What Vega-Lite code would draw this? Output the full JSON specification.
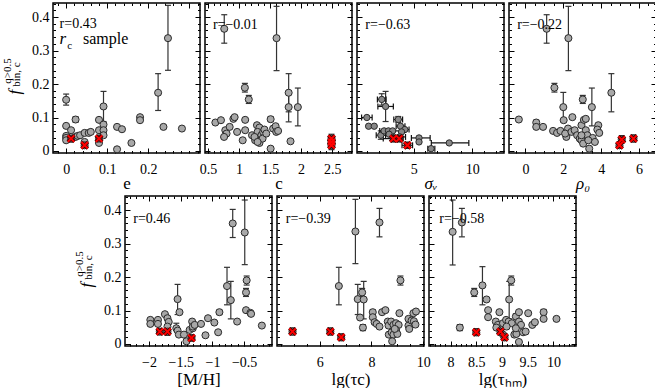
{
"$schema":"https://vega.github.io/schema/vega-lite/v6.json",
"padding":{"left":1,"top":1,"right":0,"bottom":0},
"background":"white",
"spacing":2,
"config":{
 "view":{"stroke":"black","strokeWidth":1.5},
 "axis":{"grid":false,"domain":false,"tickColor":"black","tickWidth":1,"tickSize":-5,"labelPadding":8,"labelFont":"Liberation Serif","labelFontSize":14,"labelColor":"black","titleFont":"Liberation Serif","titleFontSize":17,"titleFontWeight":"normal","titleColor":"black","labelFlush":false,"labelOverlap":false,"format":".2~f"},
 "axisBottom":{"labelPadding":14,"titlePadding":-1},
 "axisLeft":{"labelPadding":9},
 "text":{"font":"Liberation Serif","fontSize":14,"color":"black"}
},
"datasets":{"d":[
{"p":"e","x":0,"f":0.153,"lo":0.137,"hi":0.17},
{"p":"e","x":0,"f":0.075},
{"p":"e","x":0,"f":0.045},
{"p":"e","x":0,"f":0.039},
{"p":"e","x":0,"f":0.032},
{"p":"e","x":0.012,"f":0.062},
{"p":"e","x":0.023,"f":0.094,"lo":0.086,"hi":0.102},
{"p":"e","x":0.023,"f":0.042},
{"p":"e","x":0.028,"f":0.045},
{"p":"e","x":0.034,"f":0.047},
{"p":"e","x":0.045,"f":0.054},
{"p":"e","x":0.055,"f":0.054},
{"p":"e","x":0.06,"f":0.057},
{"p":"e","x":0.045,"f":0.027},
{"p":"e","x":0.08,"f":0.093},
{"p":"e","x":0.08,"f":0.062},
{"p":"e","x":0.08,"f":0.024},
{"p":"e","x":0.091,"f":0.133,"lo":0.088,"hi":0.178},
{"p":"e","x":0.091,"f":0.079},
{"p":"e","x":0.091,"f":0.062},
{"p":"e","x":0.091,"f":0.047},
{"p":"e","x":0.124,"f":0.072},
{"p":"e","x":0.136,"f":0.065},
{"p":"e","x":0.124,"f":0.005},
{"p":"e","x":0.159,"f":0.024},
{"p":"e","x":0.18,"f":0.101},
{"p":"e","x":0.18,"f":0.092},
{"p":"e","x":0.224,"f":0.174,"lo":0.121,"hi":0.231},
{"p":"e","x":0.248,"f":0.337,"lo":0.241,"hi":0.435},
{"p":"e","x":0.237,"f":0.072},
{"p":"e","x":0.282,"f":0.067},
{"p":"e","x":0.012,"f":0.037,"lo":0.027,"hi":0.047,"red":true},
{"p":"e","x":0.045,"f":0.017,"lo":0.008,"hi":0.026,"red":true},
{"p":"e","x":0.08,"f":0.037,"lo":0.027,"hi":0.047,"red":true},
{"p":"c","x":0.763,"f":0.365,"lo":0.322,"hi":0.407},
{"p":"c","x":1.605,"f":0.337,"lo":0.24,"hi":0.432},
{"p":"c","x":1.095,"f":0.189,"lo":0.176,"hi":0.202},
{"p":"c","x":1.158,"f":0.154,"lo":0.142,"hi":0.166},
{"p":"c","x":1.8,"f":0.174,"lo":0.117,"hi":0.231},
{"p":"c","x":1.8,"f":0.131,"lo":0.087,"hi":0.175},
{"p":"c","x":1.948,"f":0.131,"lo":0.075,"hi":0.188},
{"p":"c","x":0.62,"f":0.085},
{"p":"c","x":0.71,"f":0.092},
{"p":"c","x":0.78,"f":0.062},
{"p":"c","x":0.8,"f":0.052},
{"p":"c","x":0.76,"f":0.042},
{"p":"c","x":0.85,"f":0.072},
{"p":"c","x":0.91,"f":0.096},
{"p":"c","x":0.93,"f":0.101},
{"p":"c","x":0.97,"f":0.057},
{"p":"c","x":1.06,"f":0.032},
{"p":"c","x":1.1,"f":0.093},
{"p":"c","x":1.1,"f":0.062},
{"p":"c","x":1.21,"f":0.047},
{"p":"c","x":1.29,"f":0.077},
{"p":"c","x":1.33,"f":0.07},
{"p":"c","x":1.3,"f":0.057},
{"p":"c","x":1.26,"f":0.032},
{"p":"c","x":1.33,"f":0.024},
{"p":"c","x":1.36,"f":0.047},
{"p":"c","x":1.39,"f":0.057},
{"p":"c","x":1.38,"f":0.037},
{"p":"c","x":1.41,"f":0.064},
{"p":"c","x":1.25,"f":0.042},
{"p":"c","x":1.44,"f":0.052},
{"p":"c","x":1.3,"f":0.027},
{"p":"c","x":1.51,"f":0.095,"lo":0.088,"hi":0.102},
{"p":"c","x":1.51,"f":0.007},
{"p":"c","x":1.55,"f":0.067},
{"p":"c","x":1.59,"f":0.074},
{"p":"c","x":1.6,"f":0.057},
{"p":"c","x":1.63,"f":0.06},
{"p":"c","x":1.83,"f":0.029},
{"p":"c","x":2.49,"f":0.037,"lo":0.027,"hi":0.05,"red":true},
{"p":"c","x":2.49,"f":0.027,"lo":0.016,"hi":0.038,"red":true},
{"p":"c","x":2.49,"f":0.017,"lo":0.004,"hi":0.028,"red":true},
{"p":"s","x":2.27,"f":0.154,"lo":0.137,"hi":0.171,"xlo":1.9,"xhi":2.64},
{"p":"s","x":2.6,"f":0.133,"lo":0.088,"hi":0.178,"xlo":1.94,"xhi":3.26},
{"p":"s","x":1.0,"f":0.1,"xlo":0.55,"xhi":1.45},
{"p":"s","x":1.15,"f":0.074},
{"p":"s","x":1.63,"f":0.074},
{"p":"s","x":2.19,"f":0.047,"lo":0.035,"hi":0.06,"xlo":1.8,"xhi":2.6},
{"p":"s","x":2.47,"f":0.06,"xlo":2.1,"xhi":2.85},
{"p":"s","x":2.84,"f":0.06,"xlo":2.5,"xhi":3.2},
{"p":"s","x":3.2,"f":0.06,"xlo":2.6,"xhi":3.8},
{"p":"s","x":2.9,"f":0.05},
{"p":"s","x":3.68,"f":0.094,"lo":0.085,"hi":0.103,"xlo":3.3,"xhi":4.05},
{"p":"s","x":3.87,"f":0.074,"xlo":3.5,"xhi":4.25},
{"p":"s","x":4.24,"f":0.064,"xlo":3.9,"xhi":4.6},
{"p":"s","x":3.96,"f":0.057},
{"p":"s","x":3.82,"f":0.042,"xlo":3.3,"xhi":4.3},
{"p":"s","x":5.45,"f":0.039,"xlo":4.8,"xhi":6.4},
{"p":"s","x":5.45,"f":0.027},
{"p":"s","x":6.48,"f":0.007,"xlo":6.2,"xhi":6.8},
{"p":"s","x":8.03,"f":0.024,"xlo":6.5,"xhi":9.7},
{"p":"s","x":3.26,"f":0.037,"lo":0.027,"hi":0.047,"xlo":2.4,"xhi":4.1,"red":true},
{"p":"s","x":3.76,"f":0.037,"lo":0.027,"hi":0.047,"red":true},
{"p":"s","x":4.46,"f":0.017,"lo":0.008,"hi":0.026,"xlo":4.0,"xhi":4.9,"red":true},
{"p":"r","x":1.12,"f":0.365,"lo":0.322,"hi":0.407},
{"p":"r","x":2.27,"f":0.337,"lo":0.24,"hi":0.432},
{"p":"r","x":4.54,"f":0.174,"lo":0.117,"hi":0.231},
{"p":"r","x":1.53,"f":0.189,"lo":0.176,"hi":0.202},
{"p":"r","x":3.03,"f":0.154,"lo":0.142,"hi":0.166},
{"p":"r","x":2.0,"f":0.131,"lo":0.087,"hi":0.175},
{"p":"r","x":3.51,"f":0.131,"lo":0.075,"hi":0.188},
{"p":"r","x":-0.35,"f":0.094},
{"p":"r","x":0.57,"f":0.085,"lo":0.078,"hi":0.092},
{"p":"r","x":0.57,"f":0.072},
{"p":"r","x":0.93,"f":0.072},
{"p":"r","x":1.46,"f":0.06},
{"p":"r","x":1.67,"f":0.054},
{"p":"r","x":1.85,"f":0.06},
{"p":"r","x":2.02,"f":0.092},
{"p":"r","x":2.25,"f":0.067},
{"p":"r","x":2.16,"f":0.042},
{"p":"r","x":2.1,"f":0.052},
{"p":"r","x":2.43,"f":0.057},
{"p":"r","x":2.48,"f":0.101},
{"p":"r","x":2.6,"f":0.062},
{"p":"r","x":2.73,"f":0.047},
{"p":"r","x":2.87,"f":0.037},
{"p":"r","x":2.96,"f":0.077},
{"p":"r","x":3.09,"f":0.093},
{"p":"r","x":3.19,"f":0.096},
{"p":"r","x":3.19,"f":0.062},
{"p":"r","x":3.27,"f":0.047},
{"p":"r","x":2.96,"f":0.032},
{"p":"r","x":3.05,"f":0.022},
{"p":"r","x":3.37,"f":0.007},
{"p":"r","x":3.55,"f":0.039},
{"p":"r","x":3.67,"f":0.027},
{"p":"r","x":3.85,"f":0.077},
{"p":"r","x":3.8,"f":0.064},
{"p":"r","x":3.9,"f":0.054},
{"p":"r","x":3.32,"f":0.032},
{"p":"r","x":2.96,"f":0.047},
{"p":"r","x":4.97,"f":0.017,"lo":0.008,"hi":0.026,"red":true},
{"p":"r","x":5.09,"f":0.034,"lo":0.024,"hi":0.046,"red":true},
{"p":"r","x":5.71,"f":0.037,"lo":0.027,"hi":0.048,"red":true},
{"p":"m","x":-0.68,"f":0.36,"lo":0.318,"hi":0.402},
{"p":"m","x":-0.49,"f":0.333,"lo":0.237,"hi":0.43},
{"p":"m","x":-0.77,"f":0.173,"lo":0.117,"hi":0.229},
{"p":"m","x":-0.71,"f":0.131,"lo":0.075,"hi":0.187},
{"p":"m","x":-0.46,"f":0.19,"lo":0.176,"hi":0.203},
{"p":"m","x":-0.47,"f":0.154,"lo":0.142,"hi":0.166},
{"p":"m","x":-0.47,"f":0.101},
{"p":"m","x":-0.4,"f":0.093},
{"p":"m","x":-0.39,"f":0.09},
{"p":"m","x":-0.22,"f":0.055},
{"p":"m","x":-1.55,"f":0.134,"lo":0.088,"hi":0.178},
{"p":"m","x":-1.52,"f":0.095},
{"p":"m","x":-1.98,"f":0.072},
{"p":"m","x":-1.98,"f":0.06},
{"p":"m","x":-1.86,"f":0.072},
{"p":"m","x":-1.86,"f":0.06},
{"p":"m","x":-1.75,"f":0.089},
{"p":"m","x":-1.71,"f":0.077},
{"p":"m","x":-1.69,"f":0.066},
{"p":"m","x":-1.71,"f":0.052},
{"p":"m","x":-1.57,"f":0.047,"lo":0.04,"hi":0.062},
{"p":"m","x":-1.55,"f":0.04},
{"p":"m","x":-1.53,"f":0.028},
{"p":"m","x":-1.45,"f":0.028},
{"p":"m","x":-1.41,"f":0.008},
{"p":"m","x":-1.36,"f":0.042},
{"p":"m","x":-1.32,"f":0.067},
{"p":"m","x":-1.31,"f":0.047},
{"p":"m","x":-1.31,"f":0.052},
{"p":"m","x":-1.28,"f":0.057},
{"p":"m","x":-1.18,"f":0.06},
{"p":"m","x":-1.11,"f":0.026},
{"p":"m","x":-1.07,"f":0.077},
{"p":"m","x":-0.97,"f":0.064},
{"p":"m","x":-0.91,"f":0.035},
{"p":"m","x":-0.89,"f":0.095,"lo":0.088,"hi":0.101},
{"p":"m","x":-0.61,"f":0.067},
{"p":"m","x":-1.83,"f":0.037,"lo":0.028,"hi":0.046,"red":true},
{"p":"m","x":-1.71,"f":0.037,"lo":0.026,"hi":0.048,"red":true},
{"p":"m","x":-1.33,"f":0.018,"lo":0.01,"hi":0.027,"red":true},
{"p":"t","x":8.31,"f":0.363,"lo":0.32,"hi":0.405},
{"p":"t","x":7.38,"f":0.336,"lo":0.24,"hi":0.432},
{"p":"t","x":9.12,"f":0.19,"lo":0.176,"hi":0.203},
{"p":"t","x":6.74,"f":0.173,"lo":0.117,"hi":0.229},
{"p":"t","x":7.47,"f":0.134,"lo":0.088,"hi":0.178},
{"p":"t","x":7.64,"f":0.154,"lo":0.142,"hi":0.166},
{"p":"t","x":7.7,"f":0.133,"lo":0.075,"hi":0.187},
{"p":"t","x":7.56,"f":0.079},
{"p":"t","x":7.67,"f":0.049,"lo":0.04,"hi":0.058},
{"p":"t","x":8.05,"f":0.095,"lo":0.088,"hi":0.102},
{"p":"t","x":8.05,"f":0.08},
{"p":"t","x":8.12,"f":0.065},
{"p":"t","x":8.2,"f":0.06},
{"p":"t","x":8.31,"f":0.052},
{"p":"t","x":8.41,"f":0.095},
{"p":"t","x":8.54,"f":0.101},
{"p":"t","x":8.63,"f":0.067},
{"p":"t","x":8.66,"f":0.055},
{"p":"t","x":8.76,"f":0.067},
{"p":"t","x":8.85,"f":0.057},
{"p":"t","x":8.95,"f":0.062},
{"p":"t","x":9.05,"f":0.057},
{"p":"t","x":8.67,"f":0.028},
{"p":"t","x":8.78,"f":0.035},
{"p":"t","x":8.85,"f":0.028},
{"p":"t","x":8.95,"f":0.042},
{"p":"t","x":9.0,"f":0.03},
{"p":"t","x":8.8,"f":0.008},
{"p":"t","x":8.9,"f":0.045},
{"p":"t","x":9.08,"f":0.092},
{"p":"t","x":9.43,"f":0.075},
{"p":"t","x":9.62,"f":0.092},
{"p":"t","x":9.72,"f":0.097},
{"p":"t","x":9.43,"f":0.055},
{"p":"t","x":9.55,"f":0.07},
{"p":"t","x":9.64,"f":0.068},
{"p":"t","x":9.7,"f":0.058},
{"p":"t","x":9.46,"f":0.045},
{"p":"t","x":4.95,"f":0.037,"lo":0.027,"hi":0.048,"red":true},
{"p":"t","x":6.41,"f":0.037,"lo":0.027,"hi":0.048,"red":true},
{"p":"t","x":6.83,"f":0.02,"lo":0.01,"hi":0.03,"red":true},
{"p":"h","x":8.04,"f":0.335,"lo":0.236,"hi":0.43},
{"p":"h","x":8.22,"f":0.363,"lo":0.32,"hi":0.405},
{"p":"h","x":9.18,"f":0.19,"lo":0.176,"hi":0.203},
{"p":"h","x":8.62,"f":0.175,"lo":0.117,"hi":0.231},
{"p":"h","x":8.46,"f":0.154,"lo":0.142,"hi":0.166},
{"p":"h","x":9.14,"f":0.133,"lo":0.075,"hi":0.187},
{"p":"h","x":8.7,"f":0.133},
{"p":"h","x":8.73,"f":0.101},
{"p":"h","x":8.73,"f":0.08},
{"p":"h","x":8.18,"f":0.049,"lo":0.04,"hi":0.058},
{"p":"h","x":8.95,"f":0.095},
{"p":"h","x":8.88,"f":0.067},
{"p":"h","x":8.92,"f":0.057},
{"p":"h","x":9.02,"f":0.062},
{"p":"h","x":9.08,"f":0.072},
{"p":"h","x":9.13,"f":0.067},
{"p":"h","x":9.19,"f":0.062},
{"p":"h","x":9.27,"f":0.082,"lo":0.075,"hi":0.09},
{"p":"h","x":9.33,"f":0.095},
{"p":"h","x":9.51,"f":0.092},
{"p":"h","x":9.33,"f":0.067},
{"p":"h","x":9.37,"f":0.057},
{"p":"h","x":9.09,"f":0.052},
{"p":"h","x":9.24,"f":0.028},
{"p":"h","x":9.28,"f":0.03},
{"p":"h","x":9.33,"f":0.006},
{"p":"h","x":9.41,"f":0.035},
{"p":"h","x":9.46,"f":0.037},
{"p":"h","x":9.59,"f":0.057},
{"p":"h","x":9.64,"f":0.065},
{"p":"h","x":9.81,"f":0.095,"lo":0.087,"hi":0.103},
{"p":"h","x":9.81,"f":0.075},
{"p":"h","x":10.06,"f":0.075},
{"p":"h","x":9.27,"f":0.047},
{"p":"h","x":8.89,"f":0.049},
{"p":"h","x":9.02,"f":0.028},
{"p":"h","x":8.5,"f":0.035,"lo":0.025,"hi":0.046,"red":true},
{"p":"h","x":8.97,"f":0.037,"lo":0.027,"hi":0.047,"red":true},
{"p":"h","x":9.05,"f":0.02,"lo":0.01,"hi":0.03,"red":true}
]},
"data":{"name":"d"},
"vconcat":[
{"hconcat":[
{"width":147,"height":150,"transform":[{"filter":"datum.p=='e'"}],"resolve":{"axis":{"x":"independent","y":"independent"}},
 "layer":[
  {"transform":[{"filter":"datum.lo!=null"}],"mark":{"type":"rule","color":"#333","strokeWidth":1.2},
   "encoding":{"x":{"field":"x","type":"quantitative","axis":{"orient":"top","values":[0,0.1,0.2,0.3],"labels":false,"title":null}},
   "y":{"field":"lo","type":"quantitative","axis":{"orient":"right","values":[0,0.1,0.2,0.3,0.4],"labels":false,"title":null}},"y2":{"field":"hi"}}},
  {"transform":[{"filter":"datum.lo!=null"}],"mark":{"type":"point","shape":"M-1,0H1","filled":false,"stroke":"#333","strokeWidth":1.2,"size":36,"opacity":1},
   "encoding":{"x":{"field":"x","type":"quantitative","axis":null},"y":{"field":"lo","type":"quantitative","axis":null}}},
  {"transform":[{"filter":"datum.lo!=null"}],"mark":{"type":"point","shape":"M-1,0H1","filled":false,"stroke":"#333","strokeWidth":1.2,"size":36,"opacity":1},
   "encoding":{"x":{"field":"x","type":"quantitative","axis":null},"y":{"field":"hi","type":"quantitative","axis":null}}},
  {"mark":{"type":"point","shape":"circle","filled":true,"fill":"#a8a8a8","stroke":"#2a2a2a","strokeWidth":1,"size":50,"opacity":1},
   "encoding":{"x":{"field":"x","type":"quantitative","scale":{"domain":[-0.032,0.326],"nice":false,"zero":false},"axis":{"orient":"bottom","values":[0,0.1,0.2],"title":"e"}},
   "y":{"field":"f","type":"quantitative","scale":{"domain":[-0.006,0.442],"nice":false,"zero":false},"axis":{"orient":"left","values":[0,0.1,0.2,0.3,0.4],"title":null}}}},
  {"transform":[{"filter":"datum.red"}],"mark":{"type":"point","shape":"M-1,-1L1,1M-1,1L1,-1","filled":false,"stroke":"#400","strokeWidth":3.6,"size":42,"opacity":1},
   "encoding":{"x":{"field":"x","type":"quantitative","axis":{"orient":"bottom","tickCount":18,"labels":false,"title":null,"tickSize":-2.5}},
   "y":{"field":"f","type":"quantitative","axis":{"orient":"left","tickCount":22,"labels":false,"title":null,"tickSize":-2.5}}}},
  {"transform":[{"filter":"datum.red"}],"mark":{"type":"point","shape":"M-1,-1L1,1M-1,1L1,-1","filled":false,"stroke":"#ff0000","strokeWidth":2,"size":42,"opacity":1},
   "encoding":{"x":{"field":"x","type":"quantitative","axis":{"orient":"top","tickCount":18,"labels":false,"title":null,"tickSize":-2.5}},
   "y":{"field":"f","type":"quantitative","axis":{"orient":"right","tickCount":22,"labels":false,"title":null,"tickSize":-2.5}}}},
  {"data":{"values":[{}]},"mark":{"type":"text","text":"f","fontSize":17,"fontStyle":"italic","angle":270,"align":"center","baseline":"middle"},
   "encoding":{"x":{"datum":-0.1247,"type":"quantitative","axis":null},"y":{"datum":0.176,"type":"quantitative","axis":null}}},
  {"data":{"values":[{}]},"mark":{"type":"text","text":"q>0.5","fontSize":11,"angle":270,"align":"center","baseline":"middle"},
   "encoding":{"x":{"datum":-0.1418,"type":"quantitative","axis":null},"y":{"datum":0.239,"type":"quantitative","axis":null}}},
  {"data":{"values":[{}]},"mark":{"type":"text","text":"bin, c","fontSize":11,"angle":270,"align":"center","baseline":"middle"},
   "encoding":{"x":{"datum":-0.1198,"type":"quantitative","axis":null},"y":{"datum":0.228,"type":"quantitative","axis":null}}},
  {"data":{"values":[{}]},"mark":{"type":"text","text":"r=0.43","align":"left","baseline":"middle"},
   "encoding":{"x":{"datum":-0.016,"type":"quantitative","axis":null},"y":{"datum":0.379,"type":"quantitative","axis":null}}},
  {"data":{"values":[{}]},"mark":{"type":"text","text":"r","align":"left","baseline":"middle","fontSize":17,"fontStyle":"italic"},
   "encoding":{"x":{"datum":-0.016,"type":"quantitative","axis":null},"y":{"datum":0.333,"type":"quantitative","axis":null}}},
  {"data":{"values":[{}]},"mark":{"type":"text","text":"c","align":"left","baseline":"middle","fontSize":11},
   "encoding":{"x":{"datum":0.003,"type":"quantitative","axis":null},"y":{"datum":0.314,"type":"quantitative","axis":null}}},
  {"data":{"values":[{}]},"mark":{"type":"text","text":"sample","align":"left","baseline":"middle","fontSize":16},
   "encoding":{"x":{"datum":0.041,"type":"quantitative","axis":null},"y":{"datum":0.333,"type":"quantitative","axis":null}}}
 ]},
{"width":147,"height":150,"transform":[{"filter":"datum.p=='c'"}],"resolve":{"axis":{"x":"independent","y":"independent"}},
 "layer":[
  {"transform":[{"filter":"datum.lo!=null"}],"mark":{"type":"rule","color":"#333","strokeWidth":1.2},
   "encoding":{"x":{"field":"x","type":"quantitative","axis":{"orient":"top","values":[0.5,1,1.5,2,2.5],"labels":false,"title":null}},
   "y":{"field":"lo","type":"quantitative","axis":{"orient":"right","values":[0,0.1,0.2,0.3,0.4],"labels":false,"title":null}},"y2":{"field":"hi"}}},
  {"transform":[{"filter":"datum.lo!=null"}],"mark":{"type":"point","shape":"M-1,0H1","filled":false,"stroke":"#333","strokeWidth":1.2,"size":36,"opacity":1},
   "encoding":{"x":{"field":"x","type":"quantitative","axis":null},"y":{"field":"lo","type":"quantitative","axis":null}}},
  {"transform":[{"filter":"datum.lo!=null"}],"mark":{"type":"point","shape":"M-1,0H1","filled":false,"stroke":"#333","strokeWidth":1.2,"size":36,"opacity":1},
   "encoding":{"x":{"field":"x","type":"quantitative","axis":null},"y":{"field":"hi","type":"quantitative","axis":null}}},
  {"mark":{"type":"point","shape":"circle","filled":true,"fill":"#a8a8a8","stroke":"#2a2a2a","strokeWidth":1,"size":50,"opacity":1},
   "encoding":{"x":{"field":"x","type":"quantitative","scale":{"domain":[0.453,2.82],"nice":false,"zero":false},"axis":{"orient":"bottom","values":[0.5,1,1.5,2,2.5],"title":"c"}},
   "y":{"field":"f","type":"quantitative","scale":{"domain":[-0.006,0.442],"nice":false,"zero":false},"axis":{"orient":"left","values":[0,0.1,0.2,0.3,0.4],"labels":false,"title":null}}}},
  {"transform":[{"filter":"datum.red"}],"mark":{"type":"point","shape":"M-1,-1L1,1M-1,1L1,-1","filled":false,"stroke":"#400","strokeWidth":3.6,"size":42,"opacity":1},
   "encoding":{"x":{"field":"x","type":"quantitative","axis":{"orient":"bottom","tickCount":24,"labels":false,"title":null,"tickSize":-2.5}},
   "y":{"field":"f","type":"quantitative","axis":{"orient":"left","tickCount":22,"labels":false,"title":null,"tickSize":-2.5}}}},
  {"transform":[{"filter":"datum.red"}],"mark":{"type":"point","shape":"M-1,-1L1,1M-1,1L1,-1","filled":false,"stroke":"#ff0000","strokeWidth":2,"size":42,"opacity":1},
   "encoding":{"x":{"field":"x","type":"quantitative","axis":{"orient":"top","tickCount":24,"labels":false,"title":null,"tickSize":-2.5}},
   "y":{"field":"f","type":"quantitative","axis":{"orient":"right","tickCount":22,"labels":false,"title":null,"tickSize":-2.5}}}},
  {"data":{"values":[{}]},"mark":{"type":"text","text":"r=−0.01","align":"left","baseline":"middle"},
   "encoding":{"x":{"datum":0.58,"type":"quantitative","axis":null},"y":{"datum":0.376,"type":"quantitative","axis":null}}}
 ]},
{"width":147,"height":150,"transform":[{"filter":"datum.p=='s'"}],"resolve":{"axis":{"x":"independent","y":"independent"}},
 "layer":[
  {"transform":[{"filter":"datum.lo!=null"}],"mark":{"type":"rule","color":"#333","strokeWidth":1.2},
   "encoding":{"x":{"field":"x","type":"quantitative","axis":{"orient":"top","values":[5,10],"labels":false,"title":null}},
   "y":{"field":"lo","type":"quantitative","axis":{"orient":"right","values":[0,0.1,0.2,0.3,0.4],"labels":false,"title":null}},"y2":{"field":"hi"}}},
  {"transform":[{"filter":"datum.lo!=null"}],"mark":{"type":"point","shape":"M-1,0H1","filled":false,"stroke":"#333","strokeWidth":1.2,"size":36,"opacity":1},
   "encoding":{"x":{"field":"x","type":"quantitative","axis":null},"y":{"field":"lo","type":"quantitative","axis":null}}},
  {"transform":[{"filter":"datum.lo!=null"}],"mark":{"type":"point","shape":"M-1,0H1","filled":false,"stroke":"#333","strokeWidth":1.2,"size":36,"opacity":1},
   "encoding":{"x":{"field":"x","type":"quantitative","axis":null},"y":{"field":"hi","type":"quantitative","axis":null}}},
  {"transform":[{"filter":"datum.xlo!=null"}],"mark":{"type":"rule","color":"#111","strokeWidth":1.2},
   "encoding":{"x":{"field":"xlo","type":"quantitative","axis":null},"x2":{"field":"xhi"},"y":{"field":"f","type":"quantitative","axis":null}}},
  {"transform":[{"filter":"datum.xlo!=null"}],"mark":{"type":"point","shape":"M0,-1V1","filled":false,"stroke":"#111","strokeWidth":1.2,"size":36,"opacity":1},
   "encoding":{"x":{"field":"xlo","type":"quantitative","axis":null},"y":{"field":"f","type":"quantitative","axis":null}}},
  {"transform":[{"filter":"datum.xlo!=null"}],"mark":{"type":"point","shape":"M0,-1V1","filled":false,"stroke":"#111","strokeWidth":1.2,"size":36,"opacity":1},
   "encoding":{"x":{"field":"xhi","type":"quantitative","axis":null},"y":{"field":"f","type":"quantitative","axis":null}}},
  {"mark":{"type":"point","shape":"circle","filled":true,"fill":"#888888","stroke":"#2a2a2a","strokeWidth":1,"size":40,"opacity":1},
   "encoding":{"x":{"field":"x","type":"quantitative","scale":{"domain":[0.16,12.7],"nice":false,"zero":false},"axis":{"orient":"bottom","values":[5,10],"title":"σᵥ","titleFontStyle":"italic"}},
   "y":{"field":"f","type":"quantitative","scale":{"domain":[-0.006,0.442],"nice":false,"zero":false},"axis":{"orient":"left","values":[0,0.1,0.2,0.3,0.4],"labels":false,"title":null}}}},
  {"transform":[{"filter":"datum.red"}],"mark":{"type":"point","shape":"M-1,-1L1,1M-1,1L1,-1","filled":false,"stroke":"#400","strokeWidth":3.6,"size":42,"opacity":1},
   "encoding":{"x":{"field":"x","type":"quantitative","axis":{"orient":"bottom","tickCount":12,"labels":false,"title":null,"tickSize":-2.5}},
   "y":{"field":"f","type":"quantitative","axis":{"orient":"left","tickCount":22,"labels":false,"title":null,"tickSize":-2.5}}}},
  {"transform":[{"filter":"datum.red"}],"mark":{"type":"point","shape":"M-1,-1L1,1M-1,1L1,-1","filled":false,"stroke":"#ff0000","strokeWidth":2,"size":42,"opacity":1},
   "encoding":{"x":{"field":"x","type":"quantitative","axis":{"orient":"top","tickCount":12,"labels":false,"title":null,"tickSize":-2.5}},
   "y":{"field":"f","type":"quantitative","axis":{"orient":"right","tickCount":22,"labels":false,"title":null,"tickSize":-2.5}}}},
  {"data":{"values":[{}]},"mark":{"type":"text","text":"r=−0.63","align":"left","baseline":"middle"},
   "encoding":{"x":{"datum":0.87,"type":"quantitative","axis":null},"y":{"datum":0.376,"type":"quantitative","axis":null}}}
 ]},
{"width":147,"height":150,"transform":[{"filter":"datum.p=='r'"}],"resolve":{"axis":{"x":"independent","y":"independent"}},
 "layer":[
  {"transform":[{"filter":"datum.lo!=null"}],"mark":{"type":"rule","color":"#333","strokeWidth":1.2},
   "encoding":{"x":{"field":"x","type":"quantitative","axis":{"orient":"top","values":[0,2,4,6],"labels":false,"title":null}},
   "y":{"field":"lo","type":"quantitative","axis":{"orient":"right","values":[0,0.1,0.2,0.3,0.4],"labels":false,"title":null}},"y2":{"field":"hi"}}},
  {"transform":[{"filter":"datum.lo!=null"}],"mark":{"type":"point","shape":"M-1,0H1","filled":false,"stroke":"#333","strokeWidth":1.2,"size":36,"opacity":1},
   "encoding":{"x":{"field":"x","type":"quantitative","axis":null},"y":{"field":"lo","type":"quantitative","axis":null}}},
  {"transform":[{"filter":"datum.lo!=null"}],"mark":{"type":"point","shape":"M-1,0H1","filled":false,"stroke":"#333","strokeWidth":1.2,"size":36,"opacity":1},
   "encoding":{"x":{"field":"x","type":"quantitative","axis":null},"y":{"field":"hi","type":"quantitative","axis":null}}},
  {"mark":{"type":"point","shape":"circle","filled":true,"fill":"#a8a8a8","stroke":"#2a2a2a","strokeWidth":1,"size":50,"opacity":1},
   "encoding":{"x":{"field":"x","type":"quantitative","scale":{"domain":[-0.87,6.9],"nice":false,"zero":false},"axis":{"orient":"bottom","values":[0,2,4,6],"title":"ρ₀","titleFontStyle":"italic"}},
   "y":{"field":"f","type":"quantitative","scale":{"domain":[-0.006,0.442],"nice":false,"zero":false},"axis":{"orient":"left","values":[0,0.1,0.2,0.3,0.4],"labels":false,"title":null}}}},
  {"transform":[{"filter":"datum.red"}],"mark":{"type":"point","shape":"M-1,-1L1,1M-1,1L1,-1","filled":false,"stroke":"#400","strokeWidth":3.6,"size":42,"opacity":1},
   "encoding":{"x":{"field":"x","type":"quantitative","axis":{"orient":"bottom","tickCount":16,"labels":false,"title":null,"tickSize":-2.5}},
   "y":{"field":"f","type":"quantitative","axis":{"orient":"left","tickCount":22,"labels":false,"title":null,"tickSize":-2.5}}}},
  {"transform":[{"filter":"datum.red"}],"mark":{"type":"point","shape":"M-1,-1L1,1M-1,1L1,-1","filled":false,"stroke":"#ff0000","strokeWidth":2,"size":42,"opacity":1},
   "encoding":{"x":{"field":"x","type":"quantitative","axis":{"orient":"top","tickCount":16,"labels":false,"title":null,"tickSize":-2.5}},
   "y":{"field":"f","type":"quantitative","axis":{"orient":"right","tickCount":22,"labels":false,"title":null,"tickSize":-2.5}}}},
  {"data":{"values":[{}]},"mark":{"type":"text","text":"r=−0.22","align":"left","baseline":"middle"},
   "encoding":{"x":{"datum":-0.44,"type":"quantitative","axis":null},"y":{"datum":0.376,"type":"quantitative","axis":null}}}
 ]}
],"spacing":5,"bounds":"flush"},
{"hconcat":[
{"width":67,"height":150,"data":{"values":[]},"mark":"point","view":{"stroke":null}},
{"width":147,"height":150,"transform":[{"filter":"datum.p=='m'"}],"resolve":{"axis":{"x":"independent","y":"independent"}},
 "layer":[
  {"transform":[{"filter":"datum.lo!=null"}],"mark":{"type":"rule","color":"#333","strokeWidth":1.2},
   "encoding":{"x":{"field":"x","type":"quantitative","axis":{"orient":"top","values":[-2,-1.5,-1,-0.5],"labels":false,"title":null}},
   "y":{"field":"lo","type":"quantitative","axis":{"orient":"right","values":[0,0.1,0.2,0.3,0.4],"labels":false,"title":null}},"y2":{"field":"hi"}}},
  {"transform":[{"filter":"datum.lo!=null"}],"mark":{"type":"point","shape":"M-1,0H1","filled":false,"stroke":"#333","strokeWidth":1.2,"size":36,"opacity":1},
   "encoding":{"x":{"field":"x","type":"quantitative","axis":null},"y":{"field":"lo","type":"quantitative","axis":null}}},
  {"transform":[{"filter":"datum.lo!=null"}],"mark":{"type":"point","shape":"M-1,0H1","filled":false,"stroke":"#333","strokeWidth":1.2,"size":36,"opacity":1},
   "encoding":{"x":{"field":"x","type":"quantitative","axis":null},"y":{"field":"hi","type":"quantitative","axis":null}}},
  {"mark":{"type":"point","shape":"circle","filled":true,"fill":"#a8a8a8","stroke":"#2a2a2a","strokeWidth":1,"size":50,"opacity":1},
   "encoding":{"x":{"field":"x","type":"quantitative","scale":{"domain":[-2.38,-0.06],"nice":false,"zero":false},"axis":{"orient":"bottom","values":[-2,-1.5,-1,-0.5],"title":"[M/H]","titlePadding":2}},
   "y":{"field":"f","type":"quantitative","scale":{"domain":[-0.006,0.442],"nice":false,"zero":false},"axis":{"orient":"left","values":[0,0.1,0.2,0.3,0.4],"title":null}}}},
  {"transform":[{"filter":"datum.red"}],"mark":{"type":"point","shape":"M-1,-1L1,1M-1,1L1,-1","filled":false,"stroke":"#400","strokeWidth":3.6,"size":42,"opacity":1},
   "encoding":{"x":{"field":"x","type":"quantitative","axis":{"orient":"bottom","tickCount":23,"labels":false,"title":null,"tickSize":-2.5}},
   "y":{"field":"f","type":"quantitative","axis":{"orient":"left","tickCount":22,"labels":false,"title":null,"tickSize":-2.5}}}},
  {"transform":[{"filter":"datum.red"}],"mark":{"type":"point","shape":"M-1,-1L1,1M-1,1L1,-1","filled":false,"stroke":"#ff0000","strokeWidth":2,"size":42,"opacity":1},
   "encoding":{"x":{"field":"x","type":"quantitative","axis":{"orient":"top","tickCount":23,"labels":false,"title":null,"tickSize":-2.5}},
   "y":{"field":"f","type":"quantitative","axis":{"orient":"right","tickCount":22,"labels":false,"title":null,"tickSize":-2.5}}}},
  {"data":{"values":[{}]},"mark":{"type":"text","text":"f","fontSize":17,"fontStyle":"italic","angle":270,"align":"center","baseline":"middle"},
   "encoding":{"x":{"datum":-2.98,"type":"quantitative","axis":null},"y":{"datum":0.176,"type":"quantitative","axis":null}}},
  {"data":{"values":[{}]},"mark":{"type":"text","text":"q>0.5","fontSize":11,"angle":270,"align":"center","baseline":"middle"},
   "encoding":{"x":{"datum":-3.09,"type":"quantitative","axis":null},"y":{"datum":0.239,"type":"quantitative","axis":null}}},
  {"data":{"values":[{}]},"mark":{"type":"text","text":"bin, c","fontSize":11,"angle":270,"align":"center","baseline":"middle"},
   "encoding":{"x":{"datum":-2.948,"type":"quantitative","axis":null},"y":{"datum":0.228,"type":"quantitative","axis":null}}},
  {"data":{"values":[{}]},"mark":{"type":"text","text":"r=0.46","align":"left","baseline":"middle"},
   "encoding":{"x":{"datum":-2.25,"type":"quantitative","axis":null},"y":{"datum":0.373,"type":"quantitative","axis":null}}}
 ]},
{"width":147,"height":150,"transform":[{"filter":"datum.p=='t'"}],"resolve":{"axis":{"x":"independent","y":"independent"}},
 "layer":[
  {"transform":[{"filter":"datum.lo!=null"}],"mark":{"type":"rule","color":"#333","strokeWidth":1.2},
   "encoding":{"x":{"field":"x","type":"quantitative","axis":{"orient":"top","values":[6,8,10],"labels":false,"title":null}},
   "y":{"field":"lo","type":"quantitative","axis":{"orient":"right","values":[0,0.1,0.2,0.3,0.4],"labels":false,"title":null}},"y2":{"field":"hi"}}},
  {"transform":[{"filter":"datum.lo!=null"}],"mark":{"type":"point","shape":"M-1,0H1","filled":false,"stroke":"#333","strokeWidth":1.2,"size":36,"opacity":1},
   "encoding":{"x":{"field":"x","type":"quantitative","axis":null},"y":{"field":"lo","type":"quantitative","axis":null}}},
  {"transform":[{"filter":"datum.lo!=null"}],"mark":{"type":"point","shape":"M-1,0H1","filled":false,"stroke":"#333","strokeWidth":1.2,"size":36,"opacity":1},
   "encoding":{"x":{"field":"x","type":"quantitative","axis":null},"y":{"field":"hi","type":"quantitative","axis":null}}},
  {"mark":{"type":"point","shape":"circle","filled":true,"fill":"#a8a8a8","stroke":"#2a2a2a","strokeWidth":1,"size":50,"opacity":1},
   "encoding":{"x":{"field":"x","type":"quantitative","scale":{"domain":[4.35,10.03],"nice":false,"zero":false},"axis":{"orient":"bottom","values":[6,8,10],"title":"lg(τc)","titlePadding":2}},
   "y":{"field":"f","type":"quantitative","scale":{"domain":[-0.006,0.442],"nice":false,"zero":false},"axis":{"orient":"left","values":[0,0.1,0.2,0.3,0.4],"labels":false,"title":null}}}},
  {"transform":[{"filter":"datum.red"}],"mark":{"type":"point","shape":"M-1,-1L1,1M-1,1L1,-1","filled":false,"stroke":"#400","strokeWidth":3.6,"size":42,"opacity":1},
   "encoding":{"x":{"field":"x","type":"quantitative","axis":{"orient":"bottom","tickCount":11,"labels":false,"title":null,"tickSize":-2.5}},
   "y":{"field":"f","type":"quantitative","axis":{"orient":"left","tickCount":22,"labels":false,"title":null,"tickSize":-2.5}}}},
  {"transform":[{"filter":"datum.red"}],"mark":{"type":"point","shape":"M-1,-1L1,1M-1,1L1,-1","filled":false,"stroke":"#ff0000","strokeWidth":2,"size":42,"opacity":1},
   "encoding":{"x":{"field":"x","type":"quantitative","axis":{"orient":"top","tickCount":11,"labels":false,"title":null,"tickSize":-2.5}},
   "y":{"field":"f","type":"quantitative","axis":{"orient":"right","tickCount":22,"labels":false,"title":null,"tickSize":-2.5}}}},
  {"data":{"values":[{}]},"mark":{"type":"text","text":"r=−0.39","align":"left","baseline":"middle"},
   "encoding":{"x":{"datum":4.69,"type":"quantitative","axis":null},"y":{"datum":0.373,"type":"quantitative","axis":null}}}
 ]},
{"width":147,"height":150,"transform":[{"filter":"datum.p=='h'"}],"resolve":{"axis":{"x":"independent","y":"independent"}},
 "layer":[
  {"transform":[{"filter":"datum.lo!=null"}],"mark":{"type":"rule","color":"#333","strokeWidth":1.2},
   "encoding":{"x":{"field":"x","type":"quantitative","axis":{"orient":"top","values":[8,8.5,9,9.5,10],"labels":false,"title":null}},
   "y":{"field":"lo","type":"quantitative","axis":{"orient":"right","values":[0,0.1,0.2,0.3,0.4],"labels":false,"title":null}},"y2":{"field":"hi"}}},
  {"transform":[{"filter":"datum.lo!=null"}],"mark":{"type":"point","shape":"M-1,0H1","filled":false,"stroke":"#333","strokeWidth":1.2,"size":36,"opacity":1},
   "encoding":{"x":{"field":"x","type":"quantitative","axis":null},"y":{"field":"lo","type":"quantitative","axis":null}}},
  {"transform":[{"filter":"datum.lo!=null"}],"mark":{"type":"point","shape":"M-1,0H1","filled":false,"stroke":"#333","strokeWidth":1.2,"size":36,"opacity":1},
   "encoding":{"x":{"field":"x","type":"quantitative","axis":null},"y":{"field":"hi","type":"quantitative","axis":null}}},
  {"mark":{"type":"point","shape":"circle","filled":true,"fill":"#a8a8a8","stroke":"#2a2a2a","strokeWidth":1,"size":50,"opacity":1},
   "encoding":{"x":{"field":"x","type":"quantitative","scale":{"domain":[7.58,10.44],"nice":false,"zero":false},"axis":{"orient":"bottom","values":[8,8.5,9,9.5,10],"title":"lg(τₕₘ)","titlePadding":2}},
   "y":{"field":"f","type":"quantitative","scale":{"domain":[-0.006,0.442],"nice":false,"zero":false},"axis":{"orient":"left","values":[0,0.1,0.2,0.3,0.4],"labels":false,"title":null}}}},
  {"transform":[{"filter":"datum.red"}],"mark":{"type":"point","shape":"M-1,-1L1,1M-1,1L1,-1","filled":false,"stroke":"#400","strokeWidth":3.6,"size":42,"opacity":1},
   "encoding":{"x":{"field":"x","type":"quantitative","axis":{"orient":"bottom","tickCount":28,"labels":false,"title":null,"tickSize":-2.5}},
   "y":{"field":"f","type":"quantitative","axis":{"orient":"left","tickCount":22,"labels":false,"title":null,"tickSize":-2.5}}}},
  {"transform":[{"filter":"datum.red"}],"mark":{"type":"point","shape":"M-1,-1L1,1M-1,1L1,-1","filled":false,"stroke":"#ff0000","strokeWidth":2,"size":42,"opacity":1},
   "encoding":{"x":{"field":"x","type":"quantitative","axis":{"orient":"top","tickCount":28,"labels":false,"title":null,"tickSize":-2.5}},
   "y":{"field":"f","type":"quantitative","axis":{"orient":"right","tickCount":22,"labels":false,"title":null,"tickSize":-2.5}}}},
  {"data":{"values":[{}]},"mark":{"type":"text","text":"r=−0.58","align":"left","baseline":"middle"},
   "encoding":{"x":{"datum":7.78,"type":"quantitative","axis":null},"y":{"datum":0.373,"type":"quantitative","axis":null}}}
 ]}
],"spacing":5,"bounds":"flush"}
]
}
